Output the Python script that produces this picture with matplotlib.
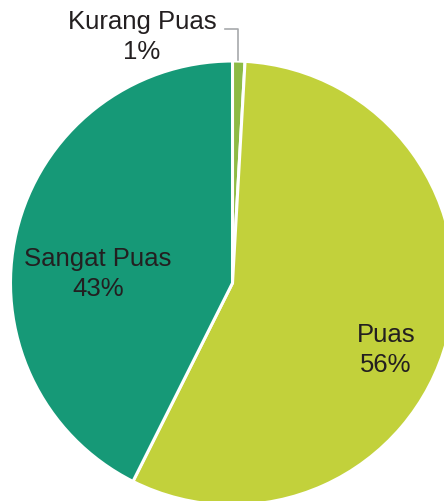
import matplotlib.pyplot as plt

# survey satisfaction shares
labels = ['Kurang Puas', 'Puas', 'Sangat Puas']
values = [0.9, 56.5, 42.6]
shown = ['1%', '56%', '43%']
colors = ['#8dbb45', '#c2d13b', '#169977']

plt.rcParams['font.family'] = ['Liberation Sans', 'DejaVu Sans']

fig = plt.figure(figsize=(4.44, 5.01), dpi=100)
ax = fig.add_axes([0, 0, 1, 1])

R = 222.0
cx, cy = 232.5, 283.0
ax.pie(values, colors=colors, startangle=90, counterclock=False,
       radius=1.0, wedgeprops=dict(edgecolor='white', linewidth=2.2))

def px(x, y):
    return (x - cx) / R, (cy - y) / R

ax.set_xlim(-cx / R, (444 - cx) / R)
ax.set_ylim(-(501 - cy) / R, cy / R)
ax.set_aspect('equal')
ax.axis('off')

txt = dict(ha='center', va='center', fontsize=18.5, color='#231f20', linespacing=1.3)
ax.text(*px(142, 37), f'{labels[0]}\n{shown[0]}', **txt)
ax.text(*px(386, 350), f'{labels[1]}\n{shown[1]}', **txt)
ax.text(*px(98, 274), f'{labels[2]}\n{shown[2]}', **txt)

# leader line for the small slice
lx, ly = zip(px(225, 29), px(238, 29), px(238, 60))
ax.plot(lx, ly, color='#a7a9ac', lw=1.2)

fig.savefig('out.png', dpi=100)
